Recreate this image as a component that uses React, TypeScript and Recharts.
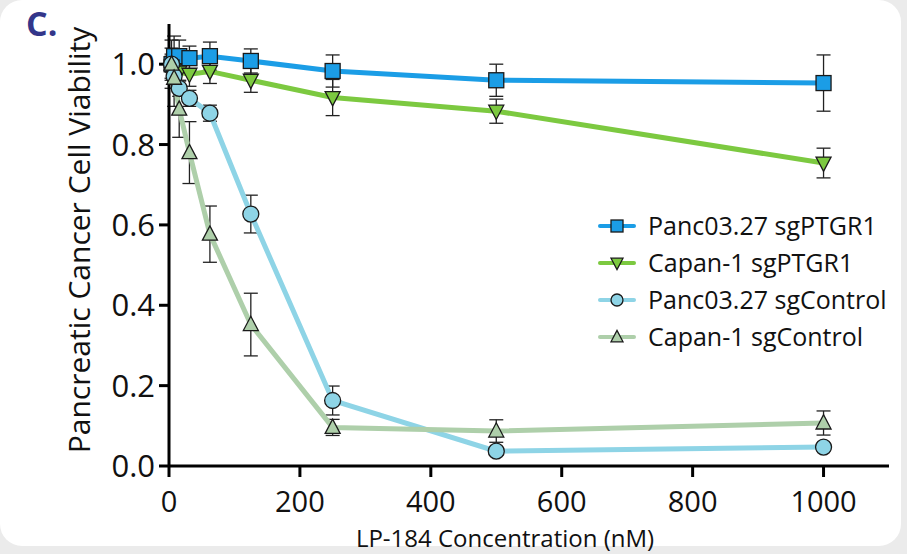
import { LineChart, Line, XAxis, YAxis, ErrorBar } from 'recharts';

const concentrations = [3.9, 7.8, 15.6, 31.25, 62.5, 125, 250, 500, 1000];

const pancPtgr1 = [1.0, 1.02, 1.02, 1.015, 1.02, 1.008, 0.983, 0.96, 0.953];
const pancPtgr1Err = [0.06, 0.05, 0.04, 0.03, 0.035, 0.03, 0.04, 0.04, 0.07];

const capanPtgr1 = [0.995, 0.985, 0.98, 0.975, 0.982, 0.96, 0.917, 0.883, 0.754];
const capanPtgr1Err = [0.03, 0.03, 0.03, 0.03, 0.03, 0.03, 0.045, 0.03, 0.037];

const pancControl = [1.0, 0.97, 0.94, 0.915, 0.878, 0.627, 0.163, 0.037, 0.047];
const pancControlErr = [0.02, 0.02, 0.02, 0.02, 0.02, 0.047, 0.036, 0.01, 0.01];

const capanControl = [1.0, 0.965, 0.888, 0.78, 0.577, 0.352, 0.096, 0.087, 0.107];
const capanControlErr = [0.04, 0.07, 0.07, 0.077, 0.07, 0.078, 0.02, 0.028, 0.03];

const xTicks = [0, 200, 400, 600, 800, 1000];
const yTicks = [0, 0.2, 0.4, 0.6, 0.8, 1.0];

const FONT = '"Open Sans", "Noto Sans", sans-serif';

const data = concentrations.map((c, i) => ({
  conc: c,
  pancPtgr1: pancPtgr1[i],
  pancPtgr1Err: pancPtgr1Err[i],
  capanPtgr1: capanPtgr1[i],
  capanPtgr1Err: capanPtgr1Err[i],
  pancControl: pancControl[i],
  pancControlErr: pancControlErr[i],
  capanControl: capanControl[i],
  capanControlErr: capanControlErr[i],
}));

type Shape = 'square' | 'down' | 'circle' | 'up';

function Marker({ cx, cy, shape, fill, size }: { cx: number; cy: number; shape: Shape; fill: string; size: number }) {
  const h = size / 2;
  const stroke = '#1a1a1a';
  if (shape === 'square')
    return <rect x={cx - h} y={cy - h} width={size} height={size} fill={fill} stroke={stroke} strokeWidth={1.3} />;
  if (shape === 'circle') return <circle cx={cx} cy={cy} r={h} fill={fill} stroke={stroke} strokeWidth={1.3} />;
  if (shape === 'down')
    return (
      <polygon
        points={`${cx - h},${cy - h * 0.8} ${cx + h},${cy - h * 0.8} ${cx},${cy + h * 1.1}`}
        fill={fill}
        stroke={stroke}
        strokeWidth={1.3}
      />
    );
  return (
    <polygon
      points={`${cx - h},${cy + h * 0.8} ${cx + h},${cy + h * 0.8} ${cx},${cy - h * 1.1}`}
      fill={fill}
      stroke={stroke}
      strokeWidth={1.3}
    />
  );
}

const SERIES: { key: string; label: string; color: string; shape: Shape }[] = [
  { key: 'pancPtgr1', label: 'Panc03.27 sgPTGR1', color: '#1b9de6', shape: 'square' },
  { key: 'capanPtgr1', label: 'Capan-1 sgPTGR1', color: '#7cc940', shape: 'down' },
  { key: 'pancControl', label: 'Panc03.27 sgControl', color: '#8ed4e6', shape: 'circle' },
  { key: 'capanControl', label: 'Capan-1 sgControl', color: '#aecfaa', shape: 'up' },
];

function LegendBox() {
  return (
    <div style={{ position: 'absolute', left: 597, top: 207, fontFamily: FONT, fontSize: 25, color: '#111' }}>
      {SERIES.map((s) => (
        <div key={s.key} style={{ display: 'flex', alignItems: 'center', height: 37 }}>
          <svg width={51} height={20} style={{ flex: 'none' }}>
            <line x1={3} y1={10} x2={37} y2={10} stroke={s.color} strokeWidth={4} strokeLinecap="round" />
            <Marker cx={20} cy={10} shape={s.shape} fill={s.color} size={12} />
          </svg>
          <span style={{ lineHeight: 1, whiteSpace: 'nowrap' }}>{s.label}</span>
        </div>
      ))}
    </div>
  );
}

export default function App() {
  return (
    <div style={{ position: 'absolute', left: 0, top: 0, width: 907, height: 554, background: '#ebebeb', overflow: 'hidden' }}>
      <div style={{ position: 'absolute', left: 0, top: 0, width: 901, height: 546, background: '#fff', borderRadius: 22 }} />
      <div style={{ position: 'absolute', left: 0, top: 0 }}>
        <LineChart width={907} height={554} data={data} margin={{ top: 24, right: 18, bottom: 0, left: 0 }}>
          <XAxis
            type="number"
            dataKey="conc"
            domain={[0, 1100]}
            ticks={xTicks}
            height={88}
            axisLine={{ stroke: '#000', strokeWidth: 3 }}
            tickLine={{ stroke: '#000', strokeWidth: 3 }}
            tickSize={11}
            tickMargin={14}
            tick={{ fontSize: 29, fill: '#111', fontFamily: FONT }}
          />
          <YAxis
            type="number"
            domain={[0, 1.1]}
            ticks={yTicks}
            width={169}
            axisLine={{ stroke: '#000', strokeWidth: 3 }}
            tickLine={{ stroke: '#000', strokeWidth: 3 }}
            tickSize={10}
            tickMargin={4}
            tickFormatter={(v: number) => v.toFixed(1)}
            tick={{ fontSize: 31, fill: '#111', fontFamily: FONT }}
          />
          {SERIES.map((s) => (
            <Line
              key={s.key}
              dataKey={s.key}
              name={s.label}
              stroke={s.color}
              strokeWidth={5}
              isAnimationActive={false}
              dot={(p: any) => (
                <Marker key={`${s.key}-${p.index}`} cx={p.cx} cy={p.cy} shape={s.shape} fill={s.color} size={s.shape === 'circle' ? 16 : 15} />
              )}
              activeDot={false}
            >
              <ErrorBar dataKey={`${s.key}Err`} direction="y" width={7} stroke="#222" strokeWidth={1.3} />
            </Line>
          ))}
        </LineChart>
      </div>
      <LegendBox />
      <svg width={907} height={554} style={{ position: 'absolute', left: 0, top: 0, pointerEvents: 'none' }}>
        <text x={26} y={36} fontFamily={FONT} fontWeight={700} fontSize={34} fill="#33368a">
          C.
        </text>
        <text
          x={90}
          y={240}
          transform="rotate(-90, 90, 240)"
          textAnchor="middle"
          fontFamily={FONT}
          fontSize={30}
          fill="#111"
        >
          Pancreatic Cancer Cell Viability
        </text>
        <text x={505} y={547} textAnchor="middle" fontFamily={FONT} fontSize={24} fill="#111">
          LP-184 Concentration (nM)
        </text>
      </svg>
    </div>
  );
}
